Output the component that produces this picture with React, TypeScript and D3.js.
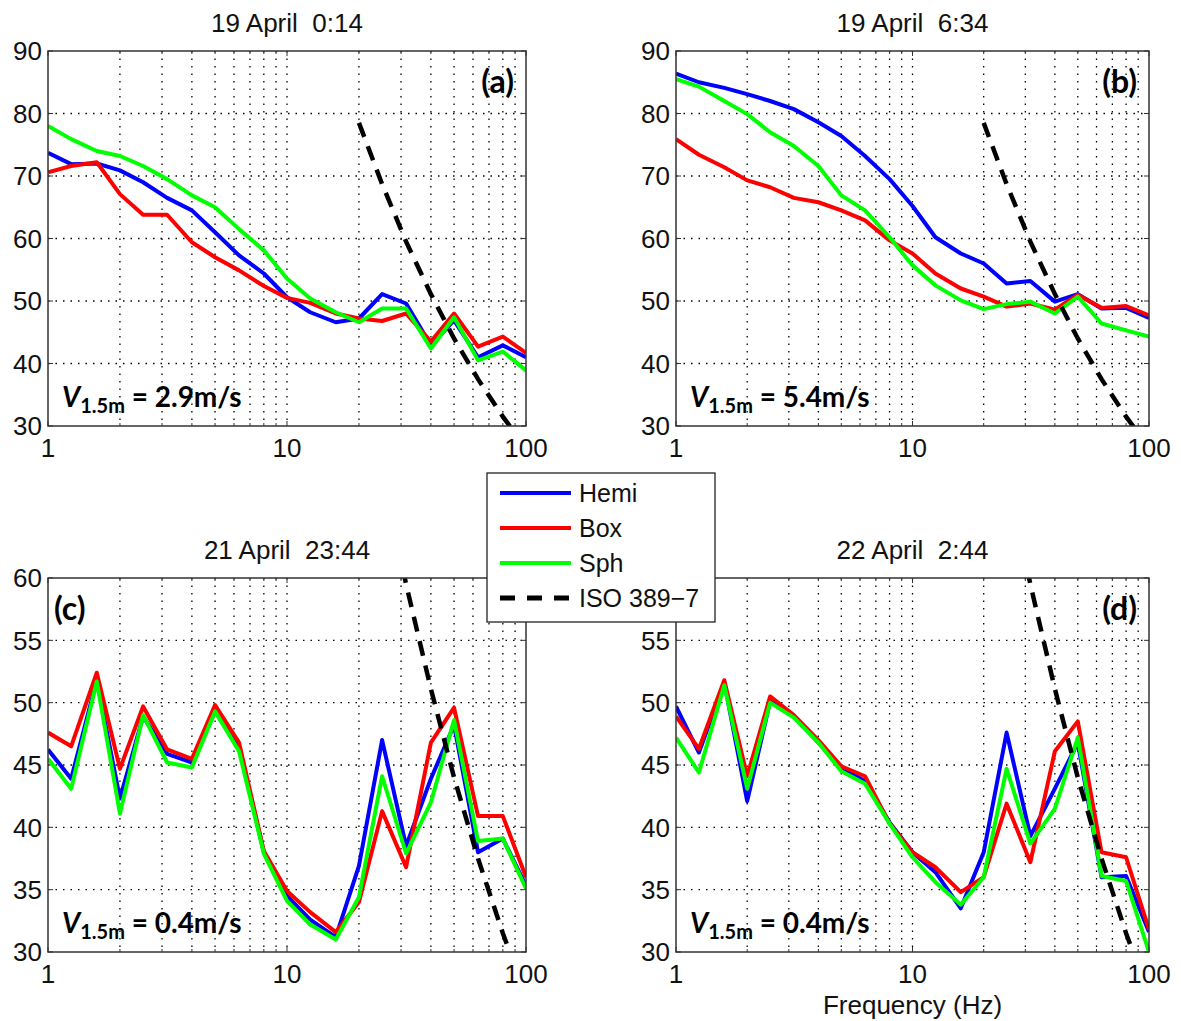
import React from 'react';
import * as d3 from 'd3';

// 1/3-octave band centre frequencies (Hz)
const FREQ = [1, 1.25, 1.6, 2, 2.5, 3.15, 4, 5, 6.3, 8, 10, 12.5, 16, 20, 25, 31.5, 40, 50, 63, 80, 100];

// Panel (a) 19 April 0:14
const HEMI_A = [73.7, 71.9, 72.0, 70.9, 69.0, 66.5, 64.5, 61.0, 57.3, 54.4, 50.6, 48.2, 46.6, 47.2, 51.1, 49.6, 42.9, 46.9, 41.0, 42.9, 41.0];
const BOX_A = [70.6, 71.6, 72.2, 67.1, 63.8, 63.8, 59.4, 57.0, 54.9, 52.4, 50.5, 49.7, 48.0, 47.2, 46.8, 48.0, 43.5, 48.0, 42.7, 44.3, 41.7];
const SPH_A = [78.0, 75.9, 74.0, 73.2, 71.6, 69.5, 66.9, 65.0, 61.5, 58.1, 53.6, 50.4, 48.2, 46.6, 48.8, 48.8, 42.4, 47.4, 40.5, 41.9, 38.9];

// Panel (b) 19 April 6:34
const HEMI_B = [86.4, 85.0, 84.1, 83.1, 82.0, 80.7, 78.6, 76.4, 73.2, 69.5, 65.2, 60.2, 57.6, 56.0, 52.8, 53.2, 49.9, 51.1, 48.8, 48.9, 47.3];
const BOX_B = [75.9, 73.4, 71.4, 69.3, 68.2, 66.5, 65.8, 64.5, 62.9, 59.7, 57.6, 54.4, 52.0, 50.7, 49.1, 49.6, 48.6, 51.0, 48.9, 49.2, 47.7];
const SPH_B = [85.5, 84.3, 82.0, 79.9, 77.0, 74.8, 71.6, 66.9, 64.5, 60.2, 55.7, 52.5, 50.1, 48.7, 49.5, 49.9, 48.0, 50.7, 46.4, 45.3, 44.3];

// Panel (c) 21 April 23:44
const HEMI_C = [46.25, 43.9, 51.8, 42.3, 48.9, 45.9, 45.2, 49.3, 46.4, 38.0, 34.5, 32.6, 31.2, 36.9, 47.0, 38.5, 43.9, 48.2, 38.0, 39.1, 35.3];
const BOX_C = [47.6, 46.5, 52.4, 44.7, 49.7, 46.25, 45.5, 49.8, 46.8, 38.1, 34.9, 33.2, 31.6, 34.0, 41.3, 36.8, 46.8, 49.6, 40.9, 40.9, 36.0];
const SPH_C = [45.5, 43.1, 51.7, 41.1, 49.0, 45.2, 44.8, 49.3, 46.1, 37.9, 34.1, 32.2, 31.0, 34.4, 44.1, 37.9, 42.0, 48.6, 38.9, 39.1, 35.1];

// Panel (d) 22 April 2:44
const HEMI_D = [49.7, 46.0, 51.6, 42.1, 50.1, 48.9, 46.8, 44.8, 43.7, 40.4, 38.0, 36.4, 33.5, 38.0, 47.6, 39.3, 43.1, 46.8, 36.0, 36.1, 31.6];
const BOX_D = [48.9, 46.3, 51.8, 44.1, 50.5, 49.0, 47.0, 44.9, 44.1, 40.3, 38.0, 36.8, 34.8, 36.0, 41.9, 37.2, 46.1, 48.5, 38.0, 37.6, 31.8];
const SPH_D = [47.2, 44.4, 51.4, 43.1, 50.0, 48.8, 46.8, 44.5, 43.5, 40.3, 37.6, 35.6, 33.8, 36.0, 44.7, 38.7, 41.5, 47.2, 36.1, 35.7, 30.0];

// ISO 389-7 hearing threshold
const ISO_FREQ = [20, 25, 31.5, 40, 50, 63, 80, 100];
const ISO_LEVEL = [78.5, 68.7, 59.5, 51.1, 44.0, 37.5, 31.5, 26.5];

const TITLES = ['19 April  0:14', '19 April  6:34', '21 April  23:44', '22 April  2:44'];
const TAGS = ['(a)', '(b)', '(c)', '(d)'];
const SPEEDS = ['2.9m/s', '5.4m/s', '0.4m/s', '0.4m/s'];
const Y_TICKS_TOP = [30, 40, 50, 60, 70, 80, 90];
const Y_TICKS_BOTTOM = [30, 35, 40, 45, 50, 55, 60];
const X_TICKS = [1, 10, 100];
const X_MINOR = [2, 3, 4, 5, 6, 7, 8, 9, 20, 30, 40, 50, 60, 70, 80, 90];
const SERIES_NAMES = ['Hemi', 'Box', 'Sph', 'ISO 389\u22127'];
const SERIES_COLORS = ['#0000ff', '#ff0000', '#00ff00'];

const PANEL_DATA = [
  [HEMI_A, BOX_A, SPH_A],
  [HEMI_B, BOX_B, SPH_B],
  [HEMI_C, BOX_C, SPH_C],
  [HEMI_D, BOX_D, SPH_D],
];

const LAYOUT = [
  { x0: 48, x1: 526, y0: 51, y1: 426, yt: Y_TICKS_TOP },
  { x0: 676, x1: 1149, y0: 51, y1: 426, yt: Y_TICKS_TOP },
  { x0: 48, x1: 526, y0: 578, y1: 952, yt: Y_TICKS_BOTTOM },
  { x0: 676, x1: 1149, y0: 578, y1: 952, yt: Y_TICKS_BOTTOM },
];

const LEG = { x: 487, y: 473, w: 228, h: 149 };

const SANS = "'Liberation Sans', Arial, sans-serif";
const BOLD = "Lato, 'Open Sans', sans-serif";

function hiddenByLegend(px: number, py: number) {
  return px > LEG.x - 30 && px < LEG.x + LEG.w + 30 && py > LEG.y && py < LEG.y + LEG.h;
}

function Panel({ i }: { i: number }) {
  const L = LAYOUT[i];
  const yt = L.yt;
  const x = d3.scaleLog().domain([1, 100]).range([L.x0, L.x1]);
  const y = d3.scaleLinear().domain([yt[0], yt[yt.length - 1]]).range([L.y1, L.y0]);
  const line = d3.line<number>().x((_, k) => x(FREQ[k])).y((v) => y(v));
  const isoLine = d3.line<number>().x((_, k) => x(ISO_FREQ[k])).y((v) => y(v));
  const clipId = `clip${i}`;
  const cx = (L.x0 + L.x1) / 2;
  return (
    <g>
      <defs>
        <clipPath id={clipId}>
          <rect x={L.x0} y={L.y0} width={L.x1 - L.x0} height={L.y1 - L.y0} />
        </clipPath>
      </defs>
      <rect x={L.x0} y={L.y0} width={L.x1 - L.x0} height={L.y1 - L.y0} fill="#fff" />
      {/* grid */}
      {[...X_MINOR, 10].map((f) => (
        <line key={'gx' + f} x1={x(f)} x2={x(f)} y1={L.y0} y2={L.y1} stroke="#000" strokeWidth={1.3} strokeDasharray="1.5 6" />
      ))}
      {yt.slice(1, -1).map((v) => (
        <line key={'gy' + v} x1={L.x0} x2={L.x1} y1={y(v)} y2={y(v)} stroke="#000" strokeWidth={1.3} strokeDasharray="1.5 6" />
      ))}
      {/* ticks */}
      {X_MINOR.map((f) => (
        <g key={'tm' + f}>
          <line x1={x(f)} x2={x(f)} y1={L.y1} y2={L.y1 - 3} stroke="#333" strokeWidth={1} />
          <line x1={x(f)} x2={x(f)} y1={L.y0} y2={L.y0 + 3} stroke="#333" strokeWidth={1} />
        </g>
      ))}
      {X_TICKS.map((f) => (
        <g key={'tx' + f}>
          <line x1={x(f)} x2={x(f)} y1={L.y1} y2={L.y1 - 5} stroke="#333" strokeWidth={1} />
          <line x1={x(f)} x2={x(f)} y1={L.y0} y2={L.y0 + 5} stroke="#333" strokeWidth={1} />
        </g>
      ))}
      {yt.map((v) => (
        <g key={'ty' + v}>
          <line x1={L.x0} x2={L.x0 + 5} y1={y(v)} y2={y(v)} stroke="#333" strokeWidth={1} />
          <line x1={L.x1} x2={L.x1 - 5} y1={y(v)} y2={y(v)} stroke="#333" strokeWidth={1} />
        </g>
      ))}
      {/* data */}
      <g clipPath={`url(#${clipId})`}>
        {PANEL_DATA[i].map((vals, s) => (
          <path key={s} d={line(vals) || ''} fill="none" stroke={SERIES_COLORS[s]} strokeWidth={4} strokeLinejoin="round" />
        ))}
        <path d={isoLine(ISO_LEVEL) || ''} fill="none" stroke="#000" strokeWidth={4.5} strokeDasharray="15 10" />
      </g>
      <rect x={L.x0} y={L.y0} width={L.x1 - L.x0} height={L.y1 - L.y0} fill="none" stroke="#333" strokeWidth={1.5} />
      {/* tick labels */}
      {X_TICKS.map((f) => (
        <text key={'lx' + f} x={x(f)} y={L.y1 + 31} textAnchor="middle" fontFamily={SANS} fontSize={26} fill="#111">
          {d3.format('d')(f)}
        </text>
      ))}
      {yt
        .filter((v) => !hiddenByLegend(L.x0 - 20, y(v)))
        .map((v) => (
          <text key={'ly' + v} x={L.x0 - 6} y={y(v)} dy="0.36em" textAnchor="end" fontFamily={SANS} fontSize={26} fill="#111">
            {v}
          </text>
        ))}
      <text x={cx} y={L.y0 - 19} textAnchor="middle" fontFamily={SANS} fontSize={26} fill="#111" style={{ whiteSpace: 'pre' }}>
        {TITLES[i]}
      </text>
      <text
        x={i === 2 ? L.x0 + 6 : L.x1 - 12}
        y={L.y0 + 42}
        textAnchor={i === 2 ? 'start' : 'end'}
        fontFamily={BOLD}
        fontWeight="bold"
        fontSize={32}
        fill="#000"
      >
        {TAGS[i]}
      </text>
      <text x={L.x0 + 14} y={L.y1 - 19} fontFamily={BOLD} fontWeight="bold" fontSize={28} fill="#000" style={{ whiteSpace: 'pre' }}>
        <tspan fontStyle="italic">V</tspan>
        <tspan fontSize={20} dy={6}>1.5m</tspan>
        <tspan dy={-6}>{' = ' + SPEEDS[i]}</tspan>
      </text>
    </g>
  );
}

function Legend() {
  const rows = [493, 528, 563, 598];
  return (
    <g>
      <rect x={LEG.x} y={LEG.y} width={LEG.w} height={LEG.h} fill="#fff" stroke="#222" strokeWidth={1.3} />
      {SERIES_NAMES.map((name, k) => (
        <g key={name}>
          <line
            x1={500}
            x2={571}
            y1={rows[k]}
            y2={rows[k]}
            stroke={k < 3 ? SERIES_COLORS[k] : '#000'}
            strokeWidth={k < 3 ? 4 : 5}
            strokeDasharray={k < 3 ? undefined : '15 12'}
          />
          <text x={579} y={rows[k]} dy="0.36em" fontFamily={SANS} fontSize={25} fill="#111">
            {name}
          </text>
        </g>
      ))}
    </g>
  );
}

export default function App() {
  return (
    <svg width={1181} height={1021} style={{ position: 'absolute', left: 0, top: 0, background: '#fff' }}>
      <rect width={1181} height={1021} fill="#fff" />
      {[0, 1, 2, 3].map((i) => (
        <Panel key={i} i={i} />
      ))}
      <text x={(LAYOUT[3].x0 + LAYOUT[3].x1) / 2} y={1014} textAnchor="middle" fontFamily={SANS} fontSize={26} fill="#111">
        Frequency (Hz)
      </text>
      <Legend />
    </svg>
  );
}
